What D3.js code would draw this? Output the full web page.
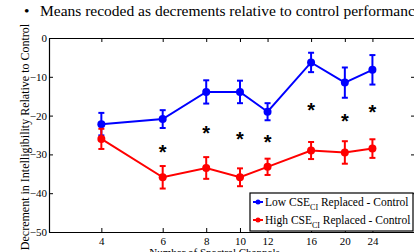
<!DOCTYPE html>
<html>
<head>
<meta charset="utf-8">
<script src="https://cdn.jsdelivr.net/npm/d3@7"></script>
<style>
  body { margin: 0; background: #fff; }
  svg { display: block; font-family: "Liberation Serif", "Times New Roman", serif; }
</style>
</head>
<body>
<div id="plot-container"></div>
<script>
// Number of spectral channels
const channels = [4, 6, 8, 10, 12, 16, 20, 24];
// Low CSE_CI replaced - control
const lowMean = [-22.2, -20.9, -13.9, -13.9, -19.0, -6.3, -11.5, -8.2];
const lowErr  = [2.9, 2.3, 3.0, 2.9, 2.2, 2.5, 3.9, 3.8];
// High CSE_CI replaced - control
const highMean = [-26.0, -35.9, -33.5, -35.9, -33.2, -29.0, -29.5, -28.5];
const highErr  = [2.6, 2.9, 2.8, 2.3, 2.1, 2.2, 2.9, 2.4];
// significance asterisks
const starChannels = [6, 8, 10, 12, 16, 20, 24];
const starY = [-28.9, -23.9, -25.5, -26.2, -18.1, -21.0, -18.6];
const yTicks = [0, -10, -20, -30, -40, -50];

const width = 414, height = 252;
const svg = d3.select("#plot-container").append("svg")
    .attr("width", width).attr("height", height);

// plot box
const box = { left: 49, right: 415, top: 38, bottom: 232 };

const x = d3.scaleLog().domain([2.83, 31.8]).range([box.left, box.right]);
const y = d3.scaleLinear().domain([-50, 0]).range([box.bottom, box.top]);

// axes (MATLAB style: ticks inward, box)
svg.append("g").attr("transform", `translate(0,${box.bottom})`)
    .call(d3.axisBottom(x).tickValues(channels).tickFormat(d3.format("d")).tickSizeInner(-4).tickSizeOuter(0).tickPadding(5));
svg.append("g").attr("transform", `translate(0,${box.top})`)
    .call(d3.axisTop(x).tickValues(channels).tickFormat("").tickSizeInner(-4).tickSizeOuter(0));
svg.append("g").attr("transform", `translate(${box.left},0)`)
    .call(d3.axisLeft(y).tickValues(yTicks).tickSizeInner(-4).tickSizeOuter(0).tickPadding(2));
svg.append("g").attr("transform", `translate(${box.right},0)`)
    .call(d3.axisRight(y).tickValues(yTicks).tickFormat("").tickSizeInner(-4).tickSizeOuter(0));

svg.selectAll(".tick text").attr("font-size", 11).attr("font-family", "Liberation Serif").attr("fill", "#000");
svg.selectAll(".domain").attr("stroke", "#000").attr("stroke-width", 1.2);
svg.selectAll(".tick line").attr("stroke", "#000");

// axis labels
svg.append("text")
    .attr("transform", `translate(29,${(box.top + box.bottom) / 2 + 2}) rotate(-90)`)
    .attr("text-anchor", "middle").attr("font-size", 12)
    .text("Decrement in Intelligibility Relative to Control");
svg.append("text").attr("x", (box.left + 380) / 2).attr("y", 256)
    .attr("text-anchor", "middle").attr("font-size", 11)
    .text("Number of Spectral Channels");

function drawSeries(means, errs, color) {
  const g = svg.append("g");
  const pts = channels.map((c, i) => ({ c, m: means[i], e: errs[i] }));
  g.append("path").datum(pts)
      .attr("fill", "none").attr("stroke", color).attr("stroke-width", 2)
      .attr("d", d3.line().x(d => x(d.c)).y(d => y(d.m)));
  const eb = g.selectAll(".eb").data(pts).enter().append("g");
  eb.append("line")
      .attr("x1", d => x(d.c)).attr("x2", d => x(d.c))
      .attr("y1", d => y(d.m - d.e)).attr("y2", d => y(d.m + d.e))
      .attr("stroke", color).attr("stroke-width", 2);
  [-1, 1].forEach(s => {
    eb.append("line")
        .attr("x1", d => x(d.c) - 3).attr("x2", d => x(d.c) + 3)
        .attr("y1", d => y(d.m + s * d.e)).attr("y2", d => y(d.m + s * d.e))
        .attr("stroke", color).attr("stroke-width", 2);
  });
  g.selectAll("circle").data(pts).enter().append("circle")
      .attr("cx", d => x(d.c)).attr("cy", d => y(d.m)).attr("r", 4)
      .attr("fill", color);
}
drawSeries(lowMean, lowErr, "#0000ff");
drawSeries(highMean, highErr, "#ff0000");

// asterisks
svg.append("g").selectAll("text").data(starChannels).enter().append("text")
    .attr("x", d => x(d)).attr("y", (d, i) => y(starY[i]) + 9)
    .attr("text-anchor", "middle").attr("font-size", 20).attr("font-weight", "bold")
    .attr("font-family", "Liberation Sans, Arial, sans-serif")
    .text("*");

// legend
const lg = svg.append("g");
lg.append("rect").attr("x", 250).attr("y", 193).attr("width", 163).attr("height", 38)
    .attr("fill", "#fff").attr("stroke", "#000").attr("stroke-width", 1.2);
const legendItems = [
  { label: "Low", color: "#0000ff" },
  { label: "High", color: "#ff0000" }
];
legendItems.forEach((d, i) => {
  const cy = 202 + i * 18;
  lg.append("line").attr("x1", 253).attr("x2", 263).attr("y1", cy).attr("y2", cy)
      .attr("stroke", d.color).attr("stroke-width", 2);
  lg.append("circle").attr("cx", 258).attr("cy", cy).attr("r", 2.5).attr("fill", d.color);
  const t = lg.append("text").attr("x", 265).attr("y", cy + 4).attr("font-size", 11.5);
  t.append("tspan").text(d.label + " CSE");
  t.append("tspan").attr("dy", 4).attr("font-size", 8).text("CI");
  t.append("tspan").attr("dy", -4).text(" Replaced - Control");
});

// slide header over the top of the figure
svg.append("rect").attr("x", 0).attr("y", 0).attr("width", width).attr("height", 24).attr("fill", "#fff");
svg.append("text").attr("x", 24).attr("y", 16).attr("font-size", 15.5).text("•");
svg.append("text").attr("x", 40).attr("y", 16).attr("font-size", 15.5)
    .text("Means recoded as decrements relative to control performance");
</script>
</body>
</html>
